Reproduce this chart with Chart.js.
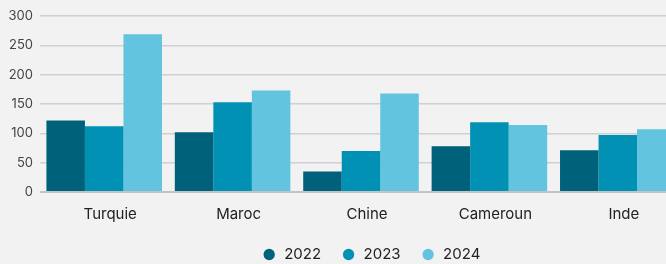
<!DOCTYPE html>
<html>
<head>
<meta charset="utf-8">
<script src="https://cdn.jsdelivr.net/npm/chart.js@4.4.1/dist/chart.umd.min.js"></script>
<style>
  html, body { margin: 0; padding: 0; background: #f2f2f2; overflow: hidden; }
  #wrap { width: 666px; height: 264px; overflow: hidden; position: relative; }
  canvas { display: block; }
</style>
</head>
<body>
<div id="wrap"><canvas id="c" width="742" height="272"></canvas></div>
<script>
const categories = ['Turquie', 'Maroc', 'Chine', 'Cameroun', 'Inde'];
const seriesNames = ['2022', '2023', '2024'];
const values2022 = [122, 102, 35, 78, 71];
const values2023 = [112, 153, 70, 119, 97];
const values2024 = [269, 173, 168, 114, 107];
const yTicks = [0, 50, 100, 150, 200, 250, 300];

const colors = ['#00617a', '#0091b4', '#62c4de'];
const FONT = 'Inter, "Noto Sans", sans-serif';

new Chart(document.getElementById('c'), {
  type: 'bar',
  data: {
    labels: categories,
    datasets: [values2022, values2023, values2024].map((d, i) => ({
      label: seriesNames[i],
      data: d,
      backgroundColor: colors[i],
      borderWidth: 0,
      categoryPercentage: 0.9,
      barPercentage: 1.0
    }))
  },
  options: {
    responsive: false,
    animation: false,
    devicePixelRatio: 1,
    layout: { padding: { top: 16, left: 0, right: 0, bottom: 0 } },
    plugins: {
      tooltip: { enabled: false },
      legend: {
        position: 'bottom',
        labels: {
          usePointStyle: true,
          pointStyle: 'circle',
          boxWidth: 15,
          boxHeight: 8,
          padding: 20,
          color: '#222',
          font: { family: FONT, size: 15 }
        }
      }
    },
    scales: {
      x: {
        grid: { display: false, drawTicks: false },
        border: { display: false },
        ticks: {
          color: '#222',
          padding: 13,
          labelOffset: 6,
          maxRotation: 0,
          font: { family: FONT, size: 15 }
        },
        afterFit: s => { s.height = 35; }
      },
      y: {
        min: yTicks[0],
        max: yTicks[yTicks.length - 1],
        afterBuildTicks: s => { s.ticks = yTicks.map(v => ({ value: v })); },
        grid: {
          drawTicks: false,
          color: c => c.tick && c.tick.value === 0 ? '#c4c4c4' : '#d0d0d0',
          lineWidth: c => c.tick && c.tick.value === 0 ? 2 : 1.5
        },
        border: { display: false },
        ticks: {
          color: '#444',
          padding: 7,
          font: { family: FONT, size: 13 }
        },
        afterFit: s => { s.width = 40; }
      },
      yRight: {
        position: 'right',
        display: true,
        grid: { display: false, drawTicks: false },
        border: { display: false },
        ticks: { display: false },
        afterFit: s => { s.width = 60; }
      }
    }
  }
});
</script>
</body>
</html>
